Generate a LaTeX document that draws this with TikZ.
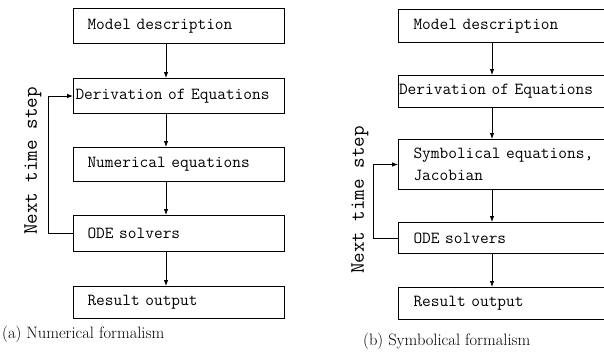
\documentclass[tikz,border=0pt]{standalone}
\usepackage{fontspec}
\usetikzlibrary{arrows.meta}
\tikzset{
  stepbox/.style={draw, line width=1pt, anchor=north west, align=left,
    inner ysep=0pt, font=\ttfamily\fontsize{16.9}{22}\selectfont},
  flow/.style={line width=0.8pt, -{Latex[length=6pt,width=4.5pt]}},
  sidelabel/.style={rotate=90, font=\ttfamily\fontsize{20.5}{24}\selectfont},
  captionlabel/.style={anchor=base west, font=\fontsize{16.5}{20}\selectfont, inner sep=0pt}
}
\begin{document}
\begin{tikzpicture}[x=1pt,y=-1pt]
\useasboundingbox (0,0) rectangle (604,351);
\clip (0,0) rectangle (604,351);
% left panel
\node[stepbox, inner xsep=14pt, text width=183pt, minimum height=35pt] (b1) at (73,8) {Model description};
\node[stepbox, inner xsep=2pt, text width=207pt, minimum height=35pt] (b2) at (73,78) {Derivation of Equations};
\node[stepbox, inner xsep=14pt, text width=183pt, minimum height=34pt] (b3) at (73,147) {Numerical equations};
\node[stepbox, inner xsep=14pt, text width=183pt, minimum height=36pt] (b4) at (73,215) {ODE solvers};
\node[stepbox, inner xsep=14pt, text width=183pt, minimum height=32pt] (b5) at (73,286) {Result output};
\coordinate (axL) at (166,0);
\draw[flow] (b1.south -| axL) -- (b2.north -| axL);
\draw[flow] (b2.south -| axL) -- (b3.north -| axL);
\draw[flow] (b3.south -| axL) -- (b4.north -| axL);
\draw[flow] (b4.south -| axL) -- (b5.north -| axL);
\coordinate (loopL) at (48,0);
\draw[flow] (b4.west) -- (b4.west -| loopL) -- (b2.west -| loopL) -- (b2.west);
\node[sidelabel] (nL) at (33,161) {Next time step};
\node[captionlabel] (capL) at (2,338) {(a) Numerical formalism};
% right panel
\node[stepbox, inner xsep=15pt, text width=190pt, minimum height=33pt] (r1) at (398,9) {Model description};
\node[stepbox, inner xsep=0.5pt, text width=219pt, minimum height=32pt] (r2) at (398,75) {Derivation of Equations};
\node[stepbox, inner xsep=15pt, text width=190pt, minimum height=50pt] (r3) at (398,139) {Symbolical equations,\\Jacobian};
\node[stepbox, inner xsep=15pt, text width=190pt, minimum height=31pt] (r4) at (398,222) {ODE solvers};
\node[stepbox, inner xsep=15pt, text width=190pt, minimum height=32pt] (r5) at (398,287) {Result output};
\coordinate (axR) at (492,0);
\draw[flow] (r1.south -| axR) -- (r2.north -| axR);
\draw[flow] (r2.south -| axR) -- (r3.north -| axR);
\draw[flow] (r3.south -| axR) -- (r4.north -| axR);
\draw[flow] (r4.south -| axR) -- (r5.north -| axR);
\coordinate (loopR) at (373,0);
\draw[flow] (r4.west) -- (r4.west -| loopR) -- (r3.west -| loopR) -- (r3.west);
\node[sidelabel] (nR) at (360,200) {Next time step};
\node[captionlabel] (capR) at (363,345) {(b) Symbolical formalism};
\end{tikzpicture}
\end{document}
